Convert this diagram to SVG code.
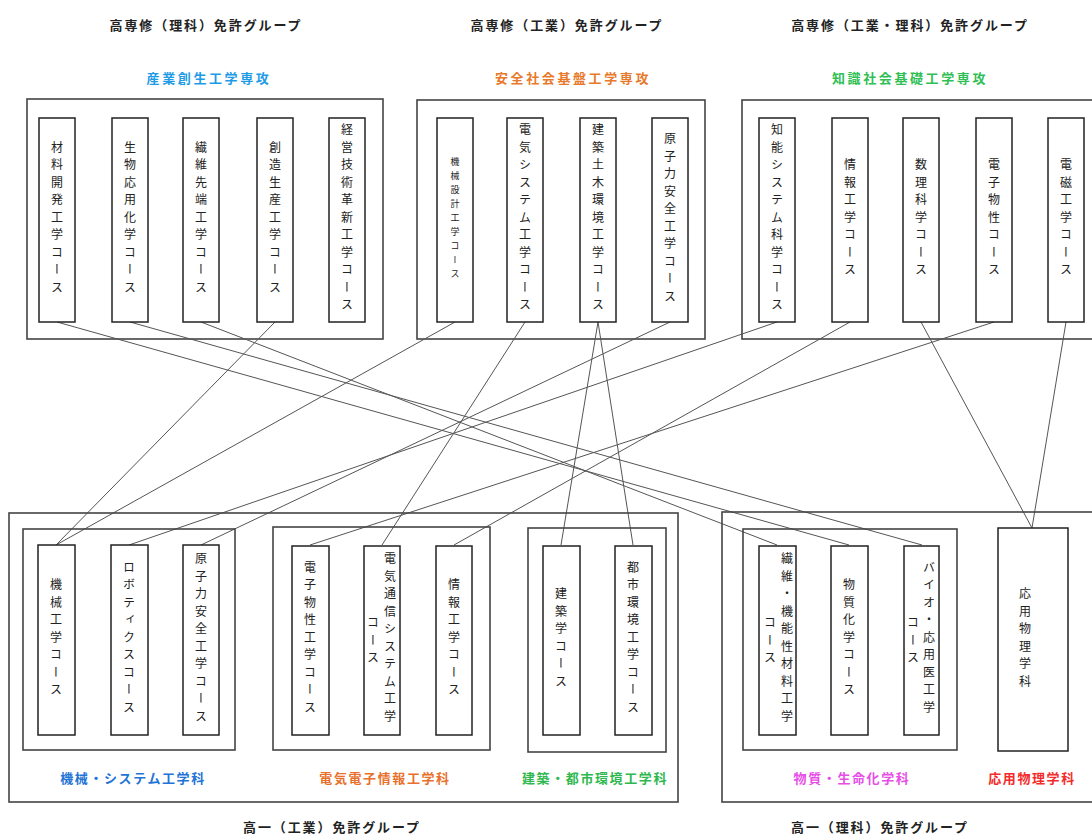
<svg xmlns="http://www.w3.org/2000/svg" width="1092" height="837" viewBox="0 0 1092 837">
<style>
.grp{fill:none;stroke:#444;stroke-width:1.6}
.crs{fill:#fff;stroke:#222;stroke-width:1.5}
.con line{stroke:#555;stroke-width:1}
.hd{font-family:"Noto Sans CJK JP","Noto Sans",sans-serif;font-size:13px;font-weight:bold;fill:#222;text-anchor:middle;letter-spacing:1.9px}
.lb{font-family:"Noto Sans CJK JP","Noto Sans",sans-serif;font-size:13px;font-weight:bold;text-anchor:middle;letter-spacing:1.6px}
.sub{letter-spacing:2.6px}
.v{font-family:"Noto Sans CJK JP","Noto Sans",sans-serif;font-size:12px;fill:#222;writing-mode:vertical-rl;text-anchor:middle;letter-spacing:5.5px}
.vs{font-family:"Noto Sans CJK JP","Noto Sans",sans-serif;font-size:9px;fill:#222;writing-mode:vertical-rl;text-anchor:middle;letter-spacing:5px}
</style>
<rect width="1092" height="837" fill="#fff"/>

<g id="headers">
<text class="hd" x="206" y="30">高専修（理科）免許グループ</text>
<text class="hd" x="567" y="30">高専修（工業）免許グループ</text>
<text class="hd" x="910" y="30">高専修（工業・理科）免許グループ</text>
<text class="lb sub" x="209" y="83" fill="#1e9be6">産業創生工学専攻</text>
<text class="lb sub" x="573" y="83" fill="#e8792a">安全社会基盤工学専攻</text>
<text class="lb sub" x="910" y="83" fill="#2fbf55">知識社会基礎工学専攻</text>
</g>

<g id="group-top-1">
<rect class="grp" x="27" y="99" width="356" height="240"/>
</g>
<g id="group-top-2">
<rect class="grp" x="417" y="100" width="288" height="239"/>
</g>
<g id="group-top-3">
<rect class="grp" x="742" y="100" width="360" height="239"/>
</g>

<g id="connectors" class="con">
<line x1="57" y1="322" x2="849" y2="545"/>
<line x1="130" y1="322" x2="922" y2="545"/>
<line x1="201" y1="322" x2="777" y2="545"/>
<line x1="275" y1="322" x2="56" y2="545"/>
<line x1="455" y1="322" x2="56" y2="545"/>
<line x1="525" y1="322" x2="382" y2="545"/>
<line x1="598" y1="322" x2="561" y2="545"/>
<line x1="598" y1="322" x2="633" y2="545"/>
<line x1="670" y1="322" x2="201" y2="545"/>
<line x1="777" y1="322" x2="129" y2="545"/>
<line x1="850" y1="322" x2="454" y2="545"/>
<line x1="921" y1="322" x2="1032" y2="528"/>
<line x1="994" y1="322" x2="310" y2="545"/>
<line x1="1066" y1="322" x2="1032" y2="528"/>
</g>

<g id="c-zairyo"><rect class="crs" x="39" y="118" width="36" height="204"/><text class="v" x="57" y="220">材料開発工学コース</text></g>
<g id="c-seibutsu"><rect class="crs" x="112" y="118" width="36" height="204"/><text class="v" x="130" y="220">生物応用化学コース</text></g>
<g id="c-sen-i"><rect class="crs" x="183" y="118" width="36" height="204"/><text class="v" x="201" y="220">繊維先端工学コース</text></g>
<g id="c-souzou"><rect class="crs" x="257" y="118" width="36" height="204"/><text class="v" x="275" y="220">創造生産工学コース</text></g>
<g id="c-keiei"><rect class="crs" x="329" y="118" width="36" height="204"/><text class="v" x="347" y="220">経営技術革新工学コース</text></g>

<g id="c-kikaisekkei"><rect class="crs" x="437" y="118" width="36" height="204"/><text class="vs" x="455" y="220">機械設計工学コース</text></g>
<g id="c-denkisys"><rect class="crs" x="507" y="118" width="36" height="204"/><text class="v" x="525" y="220">電気システム工学コース</text></g>
<g id="c-kenchikudoboku"><rect class="crs" x="580" y="118" width="36" height="204"/><text class="v" x="598" y="220">建築土木環境工学コース</text></g>
<g id="c-genshiryoku-top"><rect class="crs" x="652" y="118" width="36" height="204"/><text class="v" x="670" y="220">原子力安全工学コース</text></g>

<g id="c-chinou"><rect class="crs" x="759" y="118" width="36" height="204"/><text class="v" x="777" y="220">知能システム科学コース</text></g>
<g id="c-jouhou-top"><rect class="crs" x="832" y="118" width="36" height="204"/><text class="v" x="850" y="220">情報工学コース</text></g>
<g id="c-suuri"><rect class="crs" x="903" y="118" width="36" height="204"/><text class="v" x="921" y="220">数理科学コース</text></g>
<g id="c-denshibussei-top"><rect class="crs" x="976" y="118" width="36" height="204"/><text class="v" x="994" y="220">電子物性コース</text></g>
<g id="c-denji"><rect class="crs" x="1048" y="118" width="36" height="204"/><text class="v" x="1066" y="220">電磁工学コース</text></g>

<g id="group-bottom-kou">
<rect class="grp" x="9" y="513" width="669" height="289"/>
<text class="hd" x="332" y="832">高一（工業）免許グループ</text>
</g>
<g id="group-bottom-ri">
<rect class="grp" x="722" y="512" width="380" height="290"/>
<text class="hd" x="880" y="832">高一（理科）免許グループ</text>
</g>

<g id="dept-kikai">
<rect class="grp" x="23" y="529" width="212" height="221"/>
<text class="lb" x="133" y="783" fill="#1f74d6">機械・システム工学科</text>
</g>
<g id="dept-denki">
<rect class="grp" x="273" y="527" width="217" height="223"/>
<text class="lb" x="385" y="783" fill="#e8702a">電気電子情報工学科</text>
</g>
<g id="dept-kenchiku">
<rect class="grp" x="528" y="528" width="138" height="224"/>
<text class="lb" x="595" y="783" fill="#2fb84f">建築・都市環境工学科</text>
</g>
<g id="dept-busshitsu">
<rect class="grp" x="743" y="529" width="214" height="221"/>
<text class="lb" x="852" y="783" fill="#e64ee6">物質・生命化学科</text>
</g>
<g id="dept-ouyou">
<rect class="crs" x="998" y="528" width="70" height="223"/>
<text class="v" x="1025" y="640">応用物理学科</text>
<text class="lb" x="1032" y="783" fill="#f52a2a">応用物理学科</text>
</g>

<g id="c-kikai"><rect class="crs" x="38" y="545" width="37" height="190"/><text class="v" x="56" y="640">機械工学コース</text></g>
<g id="c-robo"><rect class="crs" x="111" y="545" width="37" height="190"/><text class="v" x="129" y="640">ロボティクスコース</text></g>
<g id="c-genshiryoku-bot"><rect class="crs" x="183" y="545" width="36" height="190"/><text class="v" x="201" y="640">原子力安全工学コース</text></g>

<g id="c-denshibussei-bot"><rect class="crs" x="292" y="546" width="37" height="189"/><text class="v" x="310" y="640">電子物性工学コース</text></g>
<g id="c-tsushin"><rect class="crs" x="364" y="546" width="36" height="189"/><text class="v" x="390" y="640">電気通信システム工学</text><text class="v" x="373" y="643">コース</text></g>
<g id="c-jouhou-bot"><rect class="crs" x="436" y="546" width="36" height="189"/><text class="v" x="454" y="640">情報工学コース</text></g>

<g id="c-kenchiku"><rect class="crs" x="543" y="546" width="37" height="189"/><text class="v" x="561" y="640">建築学コース</text></g>
<g id="c-toshi"><rect class="crs" x="615" y="546" width="37" height="189"/><text class="v" x="633" y="640">都市環境工学コース</text></g>

<g id="c-sen-i-kinou"><rect class="crs" x="759" y="546" width="37" height="189"/><text class="v" x="787" y="640">繊維・機能性材料工学</text><text class="v" x="770" y="643">コース</text></g>
<g id="c-busshitsukagaku"><rect class="crs" x="831" y="546" width="37" height="189"/><text class="v" x="849" y="640">物質化学コース</text></g>
<g id="c-bio"><rect class="crs" x="904" y="546" width="35" height="189"/><text class="v" x="929" y="640">バイオ・応用医工学</text><text class="v" x="913" y="643">コース</text></g>
</svg>
